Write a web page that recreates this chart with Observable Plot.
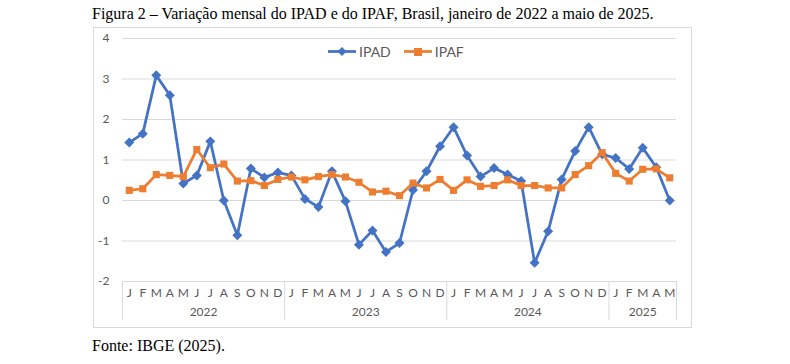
<!DOCTYPE html>
<html><head><meta charset="utf-8">
<script src="https://cdn.jsdelivr.net/npm/d3@7"></script>
<script src="https://cdn.jsdelivr.net/npm/@observablehq/plot@0.6"></script>
<style>
body{margin:0;background:#fff;}
#wrap{position:relative;width:790px;height:364px;overflow:hidden;}
#title{position:absolute;left:92px;top:5px;font-family:"Liberation Serif","Times New Roman",serif;font-size:16px;color:#000;white-space:nowrap;}
#frame{position:absolute;left:93px;top:27px;width:597px;height:299px;border:1px solid #d9d9d9;}
#chart{position:absolute;left:0;top:27px;}
#legend{position:absolute;top:43px;left:328px;font-family:Lato,sans-serif;font-size:14px;color:#595959;display:flex;align-items:center;line-height:17px;}
#legend span{margin-left:3px;}
#foot{position:absolute;left:92px;top:337px;font-family:"Liberation Serif","Times New Roman",serif;font-size:16px;color:#000;white-space:nowrap;}
</style>
</head><body>
<div id="wrap">
  <div id="title">Figura 2 – Variação mensal do IPAD e do IPAF, Brasil, janeiro de 2022 a maio de 2025.</div>
  <div id="frame"></div>
  <div id="chart"></div>
  <div id="legend"></div>
  <div id="foot">Fonte: IBGE (2025).</div>
</div>
<script>
const monthLetters = ["J","F","M","A","M","J","J","A","S","O","N","D"];
const years = ["2022","2023","2024","2025"];
const monthsPerYear = [12,12,12,5];
const yTicks = [-2,-1,0,1,2,3,4];
const seriesNames = ["IPAD","IPAF"];
const seriesColors = ["#4472C4","#ED7D31"];
const ipad = [1.43,1.65,3.09,2.60,0.42,0.62,1.46,0.00,-0.86,0.79,0.57,0.69,
              0.62,0.04,-0.16,0.72,-0.02,-1.09,-0.74,-1.27,-1.05,0.26,0.72,1.34,
              1.81,1.11,0.59,0.80,0.64,0.48,-1.54,-0.76,0.52,1.22,1.81,1.14,
              1.05,0.78,1.30,0.82,0.00];
const ipaf = [0.25,0.29,0.64,0.62,0.59,1.26,0.81,0.90,0.48,0.49,0.37,0.52,
              0.58,0.51,0.59,0.64,0.58,0.45,0.21,0.23,0.12,0.43,0.31,0.52,
              0.25,0.51,0.35,0.37,0.51,0.37,0.37,0.31,0.31,0.64,0.86,1.18,
              0.67,0.48,0.77,0.78,0.56];

const rows = [];
const yearRows = [];
const bounds = [0];
let i = 0;
years.forEach((yr, k) => {
  const start = i;
  for (let m = 0; m < monthsPerYear[k]; m++) {
    rows.push({idx: i + 0.5, month: monthLetters[m], year: yr, ipad: ipad[i], ipaf: ipaf[i]});
    i++;
  }
  yearRows.push({year: yr, mid: (start + i) / 2});
  bounds.push(i);
});

const chart = Plot.plot({
  width: 790, height: 300,
  marginTop: 11, marginBottom: 46, marginLeft: 122, marginRight: 114,
  x: {domain: [0, rows.length], axis: null},
  y: {domain: [-2, 4], axis: null},
  style: {fontFamily: "Lato, sans-serif", fontSize: "11px", color: "#595959", background: "transparent"},
  marks: [
    Plot.ruleY(yTicks, {stroke: "#d9d9d9", strokeWidth: 1}),
    Plot.axisY(yTicks, {tickSize: 0, tickPadding: 13, tickFormat: d => String(d), fill: "#595959", fontSize: 12, label: null}),
    Plot.ruleX(bounds, {y1: -2, y2: -2.96, stroke: "#d9d9d9", strokeWidth: 1}),
    Plot.text(rows, {x: "idx", y: -2, text: "month", dy: 12, fill: "#595959", fontSize: 12}),
    Plot.text(yearRows, {x: "mid", y: -2, text: "year", dy: 31, fill: "#595959", fontSize: 12}),
    Plot.line(rows, {x: "idx", y: "ipad", stroke: seriesColors[0], strokeWidth: 2.75}),
    Plot.dot(rows, {x: "idx", y: "ipad", symbol: "diamond2", fill: seriesColors[0], r: 4.5, stroke: "none"}),
    Plot.line(rows, {x: "idx", y: "ipaf", stroke: seriesColors[1], strokeWidth: 2.75}),
    Plot.dot(rows, {x: "idx", y: "ipaf", symbol: "square", fill: seriesColors[1], r: 4, stroke: "none"})
  ]
});
document.getElementById("chart").appendChild(chart);

const leg = document.getElementById("legend");
seriesNames.forEach((name, k) => {
  const shape = k === 0
    ? `<path d="M14 1 L18.5 5.5 L14 10 L9.5 5.5 Z" fill="${seriesColors[k]}"/>`
    : `<rect x="10" y="2" width="8" height="8" fill="${seriesColors[k]}"/>`;
  const item = document.createElement("div");
  item.style.display = "flex";
  item.style.alignItems = "center";
  if (k > 0) item.style.marginLeft = "13px";
  item.innerHTML = `<svg width="28" height="11"><line x1="0" x2="28" y1="5.5" y2="5.5" stroke="${seriesColors[k]}" stroke-width="2.75"/>${shape}</svg><span>${name}</span>`;
  leg.appendChild(item);
});
</script>
</body></html>
